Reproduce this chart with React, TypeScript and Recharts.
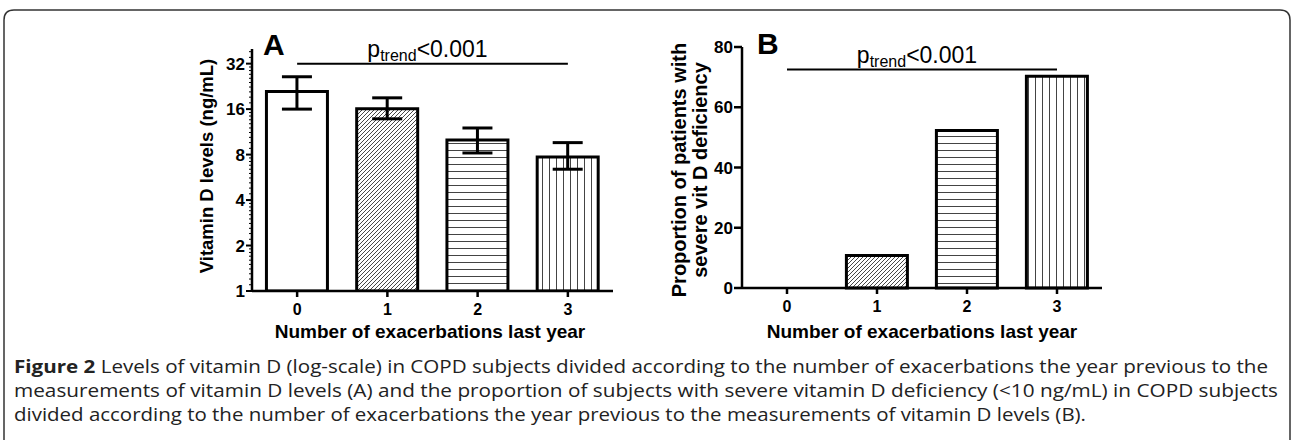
import React from 'react'
import { BarChart, Bar, XAxis, YAxis, Cell, ErrorBar, ReferenceLine } from 'recharts'

// panel A: vitamin D levels (ng/mL), log2 axis
const categories = ['0', '1', '2', '3']
const vitD = [20.9, 16.1, 10.0, 7.7]
const vitDLow = [16.0, 13.8, 8.2, 6.4]
const vitDHigh = [26.2, 19.0, 12.0, 9.6]
const logTicks = [1, 2, 4, 8, 16, 32]

// panel B: % with severe deficiency
const severePct = [0, 10.8, 52.3, 70.3]
const pctTicks = [0, 20, 40, 60, 80]

const xTitle = 'Number of exacerbations last year'
const yTitleA = ['Vitamin D levels (ng/mL)']
const yTitleB = ['Proportion of patients with', 'severe vit D deficiency']
const caption = [
  'Levels of vitamin D (log-scale) in COPD subjects divided according to the number of exacerbations the year previous to the',
  'measurements of vitamin D levels (A) and the proportion of subjects with severe vitamin D deficiency (<10 ng/mL) in COPD subjects',
  'divided according to the number of exacerbations the year previous to the measurements of vitamin D levels (B).',
]

const dataA = categories.map((c, i) => ({
  cat: c,
  v: vitD[i],
  err: [vitD[i] - vitDLow[i], vitDHigh[i] - vitD[i]],
}))
const dataB = categories.map((c, i) => ({ cat: c, v: severePct[i] }))

// minor ticks between the powers of two
const minorTicks: number[] = []
logTicks.forEach((m) => {
  for (let k = 1; k <= 9; k++) {
    const t = m * (1 + k / 10)
    if (t <= 40) minorTicks.push(+t.toFixed(2))
  }
})
const allLogTicks = [...logTicks, ...minorTicks].sort((a, b) => a - b)

const fills = ['#fff', 'url(#diag)', 'url(#hlines)', 'url(#vlines)']
const FONT = '"Liberation Sans", Arial, sans-serif'
const axisStyle = { stroke: '#000', strokeWidth: 2.5 }
const tickFont = { fill: '#000', fontSize: 17, fontWeight: 'bold' as const, fontFamily: FONT }
const xTickFont = { ...tickFont, fontSize: 16 }

const LogTick = (props: any) => {
  const { x, y, payload } = props
  const major = logTicks.includes(payload.value)
  return (
    <g>
      <line x1={x - (major ? 6 : 3)} x2={x} y1={y} y2={y} stroke="#000" strokeWidth={major ? 2 : 1} />
      {major && (
        <text x={x - 7} y={y} dy="0.36em" textAnchor="end" {...tickFont}>
          {payload.value}
        </text>
      )}
    </g>
  )
}

const TrendLabel = (props: any) => {
  const vb = props.viewBox || {}
  const cx = vb.x + (vb.width || 0) / 2 - 5
  const y = vb.y - 7
  return (
    <text x={cx} y={y} textAnchor="middle" fontFamily={FONT} fontSize={23} fill="#000">
      p<tspan fontSize={16} dy={4}>trend</tspan>
      <tspan dy={-4}>{'<0.001'}</tspan>
    </text>
  )
}

const VTitle = ({ lines, cx, cy, size }: { lines: string[]; cx: number; cy: number; size: number }) => (
  <text
    transform={`rotate(-90 ${cx} ${cy})`}
    x={cx}
    y={cy}
    textAnchor="middle"
    fontFamily={FONT}
    fontSize={size}
    fontWeight="bold"
    fill="#000"
  >
    {lines.map((l, i) => (
      <tspan key={i} x={cx} dy={i === 0 ? (lines.length > 1 ? -4 : 7) : 21}>
        {l}
      </tspan>
    ))}
  </text>
)

const XTitle = ({ cx, y }: { cx: number; y: number }) => (
  <text x={cx} y={y} textAnchor="middle" fontFamily={FONT} fontSize={19} fontWeight="bold" fill="#000">
    {xTitle}
  </text>
)

export default function App() {
  return (
    <div style={{ position: 'absolute', left: 0, top: 0, width: 1293, height: 440, background: '#fff', overflow: 'hidden' }}>
      <svg width={0} height={0} style={{ position: 'absolute' }}>
        <defs>
          <pattern id="diag" patternUnits="userSpaceOnUse" width={4} height={4}>
            <path d="M-1,1 l2,-2 M0,4 l4,-4 M3,5 l2,-2" stroke="#333" strokeWidth={0.9} />
          </pattern>
          <pattern id="hlines" patternUnits="userSpaceOnUse" width={10} height={7}>
            <rect width={10} height={7} fill="#fff" />
            <line x1={0} x2={10} y1={3.5} y2={3.5} stroke="#444" strokeWidth={1} />
          </pattern>
          <pattern id="vlines" patternUnits="userSpaceOnUse" width={7} height={10}>
            <rect width={7} height={10} fill="#fff" />
            <line x1={3.5} x2={3.5} y1={0} y2={10} stroke="#444" strokeWidth={1} />
          </pattern>
        </defs>
      </svg>

      <div style={{ position: 'absolute', left: 0, top: 0 }}>
        <BarChart width={640} height={350} data={dataA} margin={{ top: 49, right: 27, bottom: 10, left: 192 }} barCategoryGap="16%">
          <XAxis
            dataKey="cat"
            axisLine={axisStyle}
            tickLine={axisStyle}
            tickSize={6}
            tickMargin={7}
            tick={xTickFont}
            height={49}
            label={{ content: () => <XTitle cx={430} y={338} /> }}
          />
          <YAxis
            scale="log"
            domain={[1, 40]}
            ticks={allLogTicks}
            interval={0}
            allowDataOverflow
            width={60}
            axisLine={axisStyle}
            tickLine={false}
            tickSize={0}
            tickMargin={0}
            tick={<LogTick />}
            label={{ content: () => <VTitle lines={yTitleA} cx={206} cy={166} size={18.5} /> }}
          />
          <ReferenceLine
            segment={[{ x: '0', y: 32 }, { x: '3', y: 32 }]}
            stroke="#000"
            strokeWidth={2}
            ifOverflow="visible"
            label={<TrendLabel />}
          />
          <Bar dataKey="v" stroke="#000" strokeWidth={3} isAnimationActive={false}>
            {dataA.map((_, i) => (
              <Cell key={i} fill={fills[i]} />
            ))}
            <ErrorBar dataKey="err" width={15} stroke="#000" strokeWidth={3} direction="y" />
          </Bar>
        </BarChart>
      </div>

      <div style={{ position: 'absolute', left: 640, top: 0 }}>
        <BarChart width={653} height={350} data={dataB} margin={{ top: 47, right: 191, bottom: 10, left: 52 }} barCategoryGap="16%">
          <XAxis
            dataKey="cat"
            axisLine={axisStyle}
            tickLine={axisStyle}
            tickSize={6}
            tickMargin={7}
            tick={xTickFont}
            height={52}
            label={{ content: () => <XTitle cx={282} y={338} /> }}
          />
          <YAxis
            domain={[0, 80]}
            ticks={pctTicks}
            width={50}
            axisLine={axisStyle}
            tickLine={axisStyle}
            tickSize={8}
            tickMargin={1}
            tick={tickFont}
            label={{ content: () => <VTitle lines={yTitleB} cx={50} cy={170} size={20} /> }}
          />
          <ReferenceLine
            segment={[{ x: '0', y: 72.5 }, { x: '3', y: 72.5 }]}
            stroke="#000"
            strokeWidth={2}
            ifOverflow="visible"
            label={<TrendLabel />}
          />
          <Bar dataKey="v" stroke="#000" strokeWidth={3} isAnimationActive={false}>
            {dataB.map((_, i) => (
              <Cell key={i} fill={fills[i]} />
            ))}
          </Bar>
        </BarChart>
      </div>

      <svg width={1293} height={440} style={{ position: 'absolute', left: 0, top: 0, pointerEvents: 'none' }}>
        <path d="M4,460 L4,20 Q4,10 14,10 L1280,10 Q1290,10 1290,20 L1290,460" fill="none" stroke="#333" strokeWidth={1.5} />
        <text x={263} y={55} fontFamily={FONT} fontSize={30} fontWeight="bold" fill="#000">A</text>
        <text x={757} y={54} fontFamily={FONT} fontSize={30} fontWeight="bold" fill="#000">B</text>
        {caption.map((line, i) => (
          <text
            key={i}
            x={14}
            y={373 + i * 24}
            fontFamily='"Open Sans", sans-serif'
            fontSize={18}
            fill="#222"
            textLength={[1254, 1264, 1072][i]}
            lengthAdjust="spacingAndGlyphs"
          >
            {i === 0 && <tspan fontWeight="bold">Figure 2 </tspan>}
            {line}
          </text>
        ))}
      </svg>
    </div>
  )
}
